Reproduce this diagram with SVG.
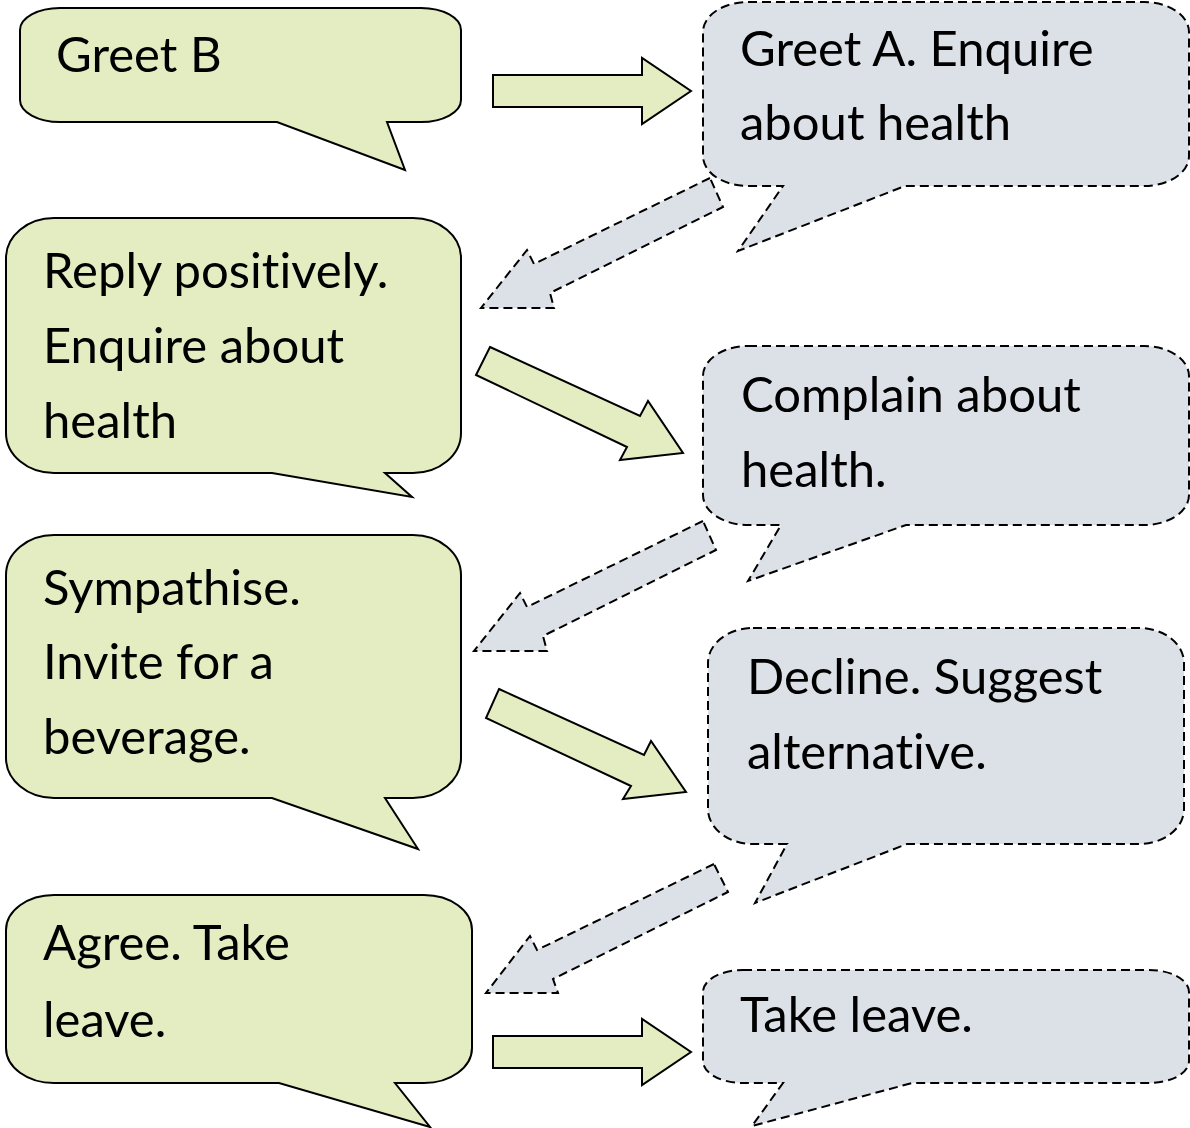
<svg xmlns="http://www.w3.org/2000/svg" width="1190" height="1128" viewBox="0 0 1190 1128">
<style>
.g{fill:#e4ecc1;stroke:#000;stroke-width:2;stroke-linejoin:miter}
.b{fill:#dce1e8;stroke:#000;stroke-width:2;stroke-dasharray:9 5;stroke-linejoin:miter}
.t{font-family:Lato,"Liberation Sans",sans-serif;font-size:49px;fill:#000;font-variant-ligatures:none}
</style>
<rect width="1190" height="1128" fill="#fff"/>
<g id="n1">
<path class="g" d="M60,8 H421 A40 22 0 0 1 461,30 V100 A40 22 0 0 1 421,122 H387 L405,170 L277,122 H60 A40 22 0 0 1 20,100 V30 A40 22 0 0 1 60,8 Z"/>
<text class="t" x="56" y="72">Greet B</text>
</g>
<g id="n2">
<path class="b" d="M748,2 H1144 A45 30 0 0 1 1189,32 V156 A45 30 0 0 1 1144,186 H905 L738,251 L783,186 H748 A45 30 0 0 1 703,156 V32 A45 30 0 0 1 748,2 Z"/>
<text class="t" x="740" y="66">Greet A. Enquire</text>
<text class="t" x="740" y="140">about health</text>
</g>
<g id="n3">
<path class="g" d="M54,218 H413 A48 40 0 0 1 461,258 V433 A48 40 0 0 1 413,473 H385 L412,497 L272,473 H54 A48 40 0 0 1 6,433 V258 A48 40 0 0 1 54,218 Z"/>
<text class="t" x="43" y="288">Reply positively.</text>
<text class="t" x="43" y="363">Enquire about</text>
<text class="t" x="43" y="438">health</text>
</g>
<g id="n4">
<path class="b" d="M748,346 H1144 A45 30 0 0 1 1189,376 V495 A45 30 0 0 1 1144,525 H906 L748,581 L781,525 H748 A45 30 0 0 1 703,495 V376 A45 30 0 0 1 748,346 Z"/>
<text class="t" x="741" y="412">Complain about</text>
<text class="t" x="741" y="487">health.</text>
</g>
<g id="n5">
<path class="g" d="M54,535 H413 A48 40 0 0 1 461,575 V758 A48 40 0 0 1 413,798 H385 L418,849 L272,798 H54 A48 40 0 0 1 6,758 V575 A48 40 0 0 1 54,535 Z"/>
<text class="t" x="43" y="605">Sympathise.</text>
<text class="t" x="43" y="679">Invite for a</text>
<text class="t" x="43" y="754">beverage.</text>
</g>
<g id="n6">
<path class="b" d="M753,628 H1139 A45 35 0 0 1 1184,663 V809 A45 35 0 0 1 1139,844 H907 L755,903 L787,844 H753 A45 35 0 0 1 708,809 V663 A45 35 0 0 1 753,628 Z"/>
<text class="t" x="747" y="694">Decline. Suggest</text>
<text class="t" x="747" y="769">alternative.</text>
</g>
<g id="n7">
<path class="g" d="M54,895 H424 A48 35 0 0 1 472,930 V1048 A48 35 0 0 1 424,1083 H395 L430,1127 L279,1083 H54 A48 35 0 0 1 6,1048 V930 A48 35 0 0 1 54,895 Z"/>
<text class="t" x="43" y="960">Agree. Take</text>
<text class="t" x="43" y="1037">leave.</text>
</g>
<g id="n8">
<path class="b" d="M743,970 H1149 A40 22 0 0 1 1189,992 V1061 A40 22 0 0 1 1149,1083 H912 L752,1126 L783,1083 H743 A40 22 0 0 1 703,1061 V992 A40 22 0 0 1 743,970 Z"/>
<text class="t" x="740" y="1032">Take leave.</text>
</g>
<g id="connectors">
<polygon class="g" points="493,75 642,75 642,58 691,91 642,124 642,107 493,107"/>
<polygon class="b" points="710,178 534,264 527,250 481,308 554,308 550,293 723,207"/>
<polygon class="g" points="490,347 640,416 648,401 683,453 620,460 627,447 476,375"/>
<polygon class="b" points="703,521 527,607 520,593 474,651 547,651 543,636 716,550"/>
<polygon class="g" points="499,689 644,755 651,741 686,792 623,799 631,786 486,718"/>
<polygon class="b" points="714,864 537,950 530,936 486,993 558,993 553,979 728,892"/>
<polygon class="g" points="493,1036 642,1036 642,1019 691,1052 642,1085 642,1068 493,1068"/>
</g>
</svg>
